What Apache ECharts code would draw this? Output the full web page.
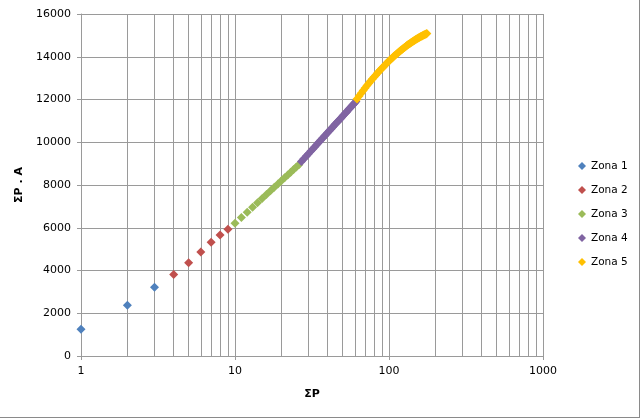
<!DOCTYPE html>
<html>
<head>
<meta charset="utf-8">
<script src="https://cdn.jsdelivr.net/npm/echarts@6/dist/echarts.min.js"></script>
<style>
html,body{margin:0;padding:0;background:#fff;}
#c{width:639px;height:417px;border-right:1px solid #8a8a8a;border-bottom:1px solid #8a8a8a;}
</style>
</head>
<body>
<div id="c"></div>
<script>
const seriesNames = ['Zona 1','Zona 2','Zona 3','Zona 4','Zona 5'];
const colors = ['#4F81BD','#C0504D','#9BBB59','#8064A2','#FFC000'];

const zone1X = [1,2,3];
const zone1Y = [1250,2380,3220];
const zone2X = [4,5,6,7,8,9];
const zone2Y = [3815,4360,4870,5320,5660,5930];
const zone3X = [10,11,12,13,14,15,16,17,18,19,20,21,22,23,24,25,26];
const zone3Y = [6210,6480,6730,6960,7170,7370,7560,7730,7890,8050,8200,8340,8470,8600,8720,8840,8950];
const zone4X = [27,28,29,30,31,32,33,34,35,36,37,38,39,40,41,42,43,44,45,46,47,48,49,50,51,52,53,54,55,56,57,58,59,60,61];
const zone4Y = [9100,9225,9345,9460,9575,9685,9790,9895,9995,10090,10185,10275,10365,10455,10540,10620,10700,10780,10860,10935,11005,11080,11150,11220,11290,11355,11420,11485,11550,11610,11670,11730,11790,11850,11905];
const zone5X = [62,64,66,68,70,72,74,76,78,80,82,84,86,88,90,92,94,96,98,100,102,104,106,108,110,112,114,116,118,120,122,124,126,128,130,132,134,136,138,140,142,144,146,148,150,152,154,156,158,160,162,164,166,168,170,172,174,176];
const zone5Y = [12020,12160,12290,12420,12535,12650,12755,12860,12955,13050,13140,13225,13310,13390,13465,13535,13605,13675,13740,13800,13860,13920,13975,14030,14080,14130,14180,14225,14270,14315,14355,14395,14435,14470,14510,14545,14580,14610,14645,14675,14705,14735,14760,14790,14815,14840,14865,14885,14910,14935,14955,14975,14995,15015,15035,15050,15070,15090];

const yTicks = {min:0, max:16000, interval:2000};
const xTicks = {min:1, max:1000};

const zonesX = [zone1X, zone2X, zone3X, zone4X, zone5X];
const zonesY = [zone1Y, zone2Y, zone3Y, zone4Y, zone5Y];

const gridColor = '#9a9a9a';
const font = 'DejaVu Sans';

const chart = echarts.init(document.getElementById('c'), null, {renderer:'canvas'});
chart.setOption({
  animation: false,
  backgroundColor: '#fff',
  grid: {left: 81, top: 14, width: 462, height: 342, containLabel: false},
  legend: {
    orient: 'vertical',
    left: 573, top: 154,
    itemWidth: 8, itemHeight: 8, itemGap: 10,
    icon: 'diamond',
    textStyle: {fontFamily: font, fontSize: 10.5, color: '#000', lineHeight: 14},
    data: seriesNames
  },
  xAxis: {
    type: 'log', logBase: 10, min: xTicks.min, max: xTicks.max,
    name: 'ΣP', nameLocation: 'middle', nameGap: 33,
    nameTextStyle: {fontFamily: font, fontSize: 11, fontWeight: 'bold', color: '#000'},
    axisLine: {show: true, lineStyle: {color: gridColor}},
    axisTick: {show: true, length: 4, lineStyle: {color: gridColor}},
    axisLabel: {fontFamily: font, fontSize: 11, color: '#000', margin: 10, formatter: v => String(v)},
    splitLine: {show: true, lineStyle: {color: gridColor, width: 1}},
    minorTick: {show: false, splitNumber: 9},
    minorSplitLine: {show: true, lineStyle: {color: gridColor, width: 1}}
  },
  yAxis: {
    type: 'value', min: yTicks.min, max: yTicks.max, interval: yTicks.interval,
    name: 'ΣP . A', nameLocation: 'middle', nameGap: 42,
    nameTextStyle: {fontFamily: font, fontSize: 11, fontWeight: 'bold', color: '#000'},
    axisLine: {show: true, lineStyle: {color: gridColor}},
    axisTick: {show: true, length: 4, lineStyle: {color: gridColor}},
    axisLabel: {fontFamily: font, fontSize: 11, color: '#000', margin: 10, formatter: v => String(v)},
    splitLine: {show: true, lineStyle: {color: gridColor, width: 1}}
  },
  series: seriesNames.map((n, i) => ({
    name: n,
    type: 'scatter',
    symbol: 'diamond',
    symbolSize: 9,
    itemStyle: {color: colors[i], opacity: 1},
    data: zonesX[i].map((x, j) => [x, zonesY[i][j]])
  }))
});
</script>
</body>
</html>
